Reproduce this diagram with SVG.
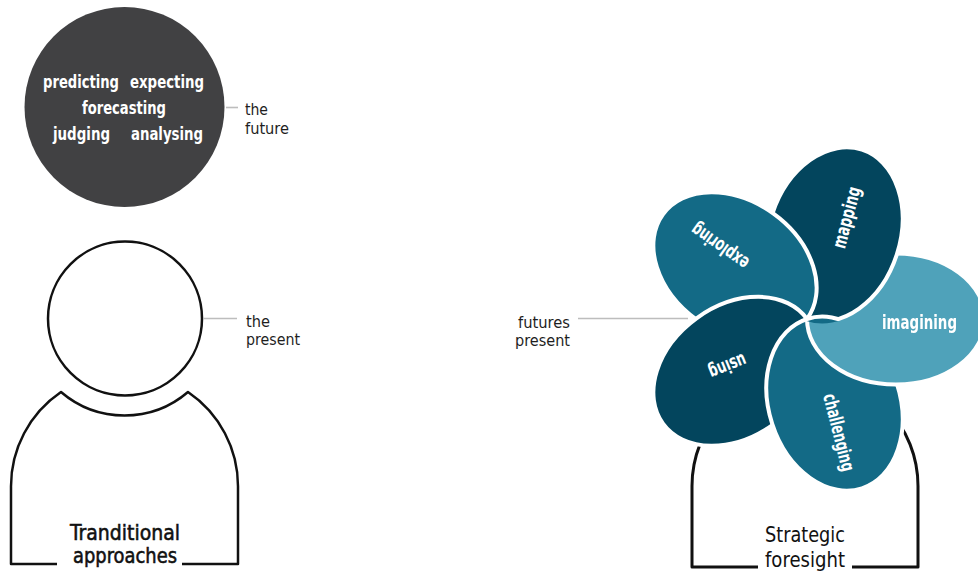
<svg xmlns="http://www.w3.org/2000/svg" xmlns:xlink="http://www.w3.org/1999/xlink" width="978" height="576" viewBox="0 0 978 576">
  <style>
    .cond { font-family: "DejaVu Sans Condensed", "Liberation Sans Narrow", "DejaVu Sans", "Liberation Sans", sans-serif; font-stretch: condensed; }
    .in-circle { font-size: 18px; font-weight: bold; fill: #ffffff; text-anchor: middle; }
    .label { font-size: 16.5px; fill: #1e1e1e; }
    .caption { font-size: 22px; fill: #111111; text-anchor: middle; }
    .medium { stroke: #111111; stroke-width: 0.55; }
    .petal-text { font-size: 19px; font-weight: bold; fill: #ffffff; text-anchor: middle; }
    .outline { fill: none; stroke: #111111; stroke-linejoin: round; stroke-linecap: butt; }
    .leader { stroke: #bdbdbd; stroke-width: 1.6; fill: none; }
    .petal { stroke: #ffffff; stroke-width: 4; }
    .dark { fill: #03455d; }
    .mid { fill: #136a86; }
    .light { fill: #4fa2ba; }
  </style>
  <defs>
    <!-- one petal: tip at the pinwheel hub (807,319), pointing right -->
    <ellipse id="petal-shape" cx="896" cy="319" rx="89" ry="65.5"/>
    <!-- hides the imagining petal wherever the mapping petal (with its rim) lies -->
    <mask id="under-mapping" maskUnits="userSpaceOnUse" x="0" y="0" width="978" height="576">
      <rect x="0" y="0" width="978" height="576" fill="#ffffff"/>
      <use xlink:href="#petal-shape" fill="#000000" stroke="#000000" stroke-width="4" transform="rotate(-72 807 319)"/>
    </mask>
  </defs>

  <rect x="0" y="0" width="978" height="576" fill="#ffffff"/>

  <!-- left figure: the future as a dark head above the present -->
  <g id="future-circle">
    <circle cx="124.5" cy="107" r="100" fill="#414143"/>
    <text class="cond in-circle" x="81" y="88" textLength="76" lengthAdjust="spacingAndGlyphs">predicting</text>
    <text class="cond in-circle" x="167" y="88" textLength="74" lengthAdjust="spacingAndGlyphs">expecting</text>
    <text class="cond in-circle" x="124" y="114" textLength="84" lengthAdjust="spacingAndGlyphs">forecasting</text>
    <text class="cond in-circle" x="81.5" y="140" textLength="57" lengthAdjust="spacingAndGlyphs">judging</text>
    <text class="cond in-circle" x="167" y="140" textLength="72" lengthAdjust="spacingAndGlyphs">analysing</text>
  </g>

  <g id="present-head">
    <circle class="outline" cx="125" cy="318.5" r="77" stroke-width="2.5"/>
  </g>

  <g id="traditional-body">
    <path class="outline" stroke-width="2.5"
          d="M 57 564 L 11 564 L 11 487 A 114 114 0 0 1 61 392 A 97.5 97.5 0 0 0 188 392 A 114 114 0 0 1 238 487 L 238 564 L 182 564"/>
    <text class="cond caption medium" x="125" y="540" textLength="110" lengthAdjust="spacingAndGlyphs">Tranditional</text>
    <text class="cond caption medium" x="125" y="562.5" textLength="104" lengthAdjust="spacingAndGlyphs">approaches</text>
  </g>

  <g id="label-future">
    <text class="cond label" x="245" y="115" textLength="23" lengthAdjust="spacingAndGlyphs">the</text>
    <text class="cond label" x="245" y="134" textLength="44" lengthAdjust="spacingAndGlyphs">future</text>
  </g>
  <g id="label-present">
    <text class="cond label" x="246" y="327" textLength="24" lengthAdjust="spacingAndGlyphs">the</text>
    <text class="cond label" x="246" y="345" textLength="54" lengthAdjust="spacingAndGlyphs">present</text>
  </g>

  <!-- right figure: strategic foresight -->
  <g id="foresight-body">
    <path class="outline" stroke-width="3"
          d="M 758 567 L 692 567 L 692 486 A 113 113 0 0 1 918 486 L 918 567 L 852 567"/>
    <text class="cond caption" x="805" y="542" textLength="80" lengthAdjust="spacingAndGlyphs">Strategic</text>
    <text class="cond caption" x="805" y="567" textLength="80" lengthAdjust="spacingAndGlyphs">foresight</text>
  </g>

  <g id="label-futures-present">
    <text class="cond label" x="570" y="328" text-anchor="end" textLength="52" lengthAdjust="spacingAndGlyphs">futures</text>
    <text class="cond label" x="570" y="346" text-anchor="end" textLength="55" lengthAdjust="spacingAndGlyphs">present</text>
  </g>

  <!-- pinwheel: each petal sits on top of its clockwise neighbour -->
  <g id="pinwheel">
    <g id="petal-mapping">
      <use xlink:href="#petal-shape" class="petal dark" transform="rotate(-72 807 319)"/>
      <text class="cond petal-text" transform="translate(847 217.5) rotate(-75)" y="6" textLength="63" lengthAdjust="spacingAndGlyphs">mapping</text>
    </g>
    <g id="petal-exploring">
      <use xlink:href="#petal-shape" class="petal mid" transform="rotate(216 807 319)"/>
      <text class="cond petal-text" transform="translate(720 246) rotate(215)" y="6" textLength="66" lengthAdjust="spacingAndGlyphs">exploring</text>
    </g>
    <g id="petal-using">
      <use xlink:href="#petal-shape" class="petal dark" transform="rotate(144 807 319)"/>
      <text class="cond petal-text" transform="translate(727.5 366) rotate(158)" y="6" textLength="39" lengthAdjust="spacingAndGlyphs">using</text>
    </g>
    <g id="petal-challenging">
      <use xlink:href="#petal-shape" class="petal mid" transform="rotate(72 807 319)"/>
      <text class="cond petal-text" transform="translate(838.5 432.5) rotate(76)" y="6" textLength="79" lengthAdjust="spacingAndGlyphs">challenging</text>
    </g>
    <!-- imagining tucks under mapping, closing the cycle -->
    <g id="petal-imagining" mask="url(#under-mapping)">
      <use xlink:href="#petal-shape" class="petal light"/>
      <text class="cond petal-text" x="919.5" y="329" textLength="75" lengthAdjust="spacingAndGlyphs">imagining</text>
    </g>
  </g>

  <g id="connectors">
    <line class="leader" x1="226" y1="107.5" x2="238" y2="107.5"/>
    <line class="leader" x1="203" y1="318.5" x2="237" y2="318.5"/>
    <line class="leader" x1="578" y1="318.5" x2="688" y2="318.5"/>
  </g>
</svg>
